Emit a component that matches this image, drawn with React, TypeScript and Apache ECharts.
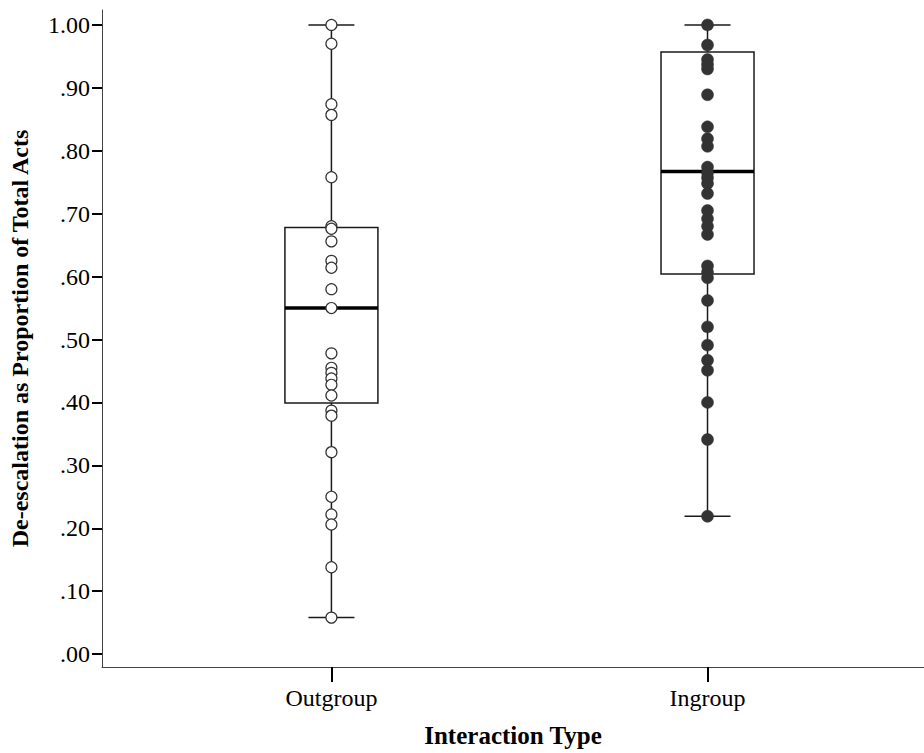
import React, { useEffect, useRef } from "react";
import * as echarts from "echarts";

const categories = ["Outgroup", "Ingroup"];

const outgroupValues = [
  1.0, 0.97, 0.874, 0.857, 0.758, 0.68, 0.676, 0.656, 0.625, 0.614, 0.58, 0.55,
  0.478, 0.455, 0.447, 0.438, 0.428, 0.411, 0.387, 0.379, 0.321, 0.25, 0.222,
  0.206, 0.138, 0.058,
];

const ingroupValues = [
  1.0, 0.968, 0.945, 0.937, 0.93, 0.889, 0.838, 0.819, 0.807, 0.774, 0.765,
  0.757, 0.748, 0.732, 0.705, 0.692, 0.68, 0.667, 0.617, 0.607, 0.598, 0.562,
  0.52, 0.491, 0.467, 0.451, 0.4, 0.341, 0.219,
];

// [min, Q1, median, Q3, max]
const outgroupBox = [0.058, 0.399, 0.55, 0.678, 1.0];
const ingroupBox = [0.219, 0.604, 0.767, 0.957, 1.0];

const yTicks = [0, 0.1, 0.2, 0.3, 0.4, 0.5, 0.6, 0.7, 0.8, 0.9, 1.0];

export default function App() {
  const ref = useRef<HTMLDivElement>(null);

  useEffect(() => {
    if (!ref.current) return;
    const chart = echarts.init(ref.current, null, { renderer: "svg" });
    const font = "'Liberation Serif', 'Times New Roman', serif";
    const boxes = [outgroupBox, ingroupBox];

    chart.setOption({
      animation: false,
      backgroundColor: "#ffffff",
      grid: { left: 100, right: 0, top: 10, bottom: 81 },
      xAxis: {
        type: "value",
        min: 0.39,
        max: 2.5756,
        name: "Interaction Type",
        nameLocation: "middle",
        nameGap: 56,
        nameTextStyle: {
          fontFamily: font,
          fontSize: 25,
          fontWeight: "bold",
          color: "#000",
        },
        splitLine: { show: false },
        axisLine: { onZero: false, lineStyle: { color: "#444", width: 1 } },
        axisTick: {
          show: true,
          customValues: [1, 2],
          length: 15,
          lineStyle: { color: "#000", width: 2 },
        },
        axisLabel: {
          customValues: [1, 2],
          formatter: (v: number) => categories[Math.round(v) - 1] ?? "",
          fontFamily: font,
          fontSize: 24,
          color: "#000",
          margin: 19,
        },
      },
      yAxis: {
        type: "value",
        min: -0.0205,
        max: 1.0237,
        name: "De-escalation as Proportion of Total Acts",
        nameLocation: "middle",
        nameGap: 70,
        nameTextStyle: {
          fontFamily: font,
          fontSize: 24,
          fontWeight: "bold",
          color: "#000",
        },
        splitLine: { show: false },
        axisLine: { show: true, onZero: false, lineStyle: { color: "#444", width: 1 } },
        axisTick: {
          show: true,
          customValues: yTicks,
          length: 10,
          lineStyle: { color: "#000", width: 2 },
        },
        axisLabel: {
          customValues: yTicks,
          formatter: (v: number) => v.toFixed(2).replace(/^0/, ""),
          fontFamily: font,
          fontSize: 24,
          color: "#000",
          margin: 12,
        },
      },
      series: [
        {
          type: "custom",
          z: 1,
          data: boxes.map((b, i) => [i + 1, ...b]),
          encode: { x: 0, y: [1, 2, 3, 4, 5] },
          renderItem: (params: any, api: any) => {
            const x = api.value(0);
            const pMin = api.coord([x, api.value(1)]);
            const pQ1 = api.coord([x, api.value(2)]);
            const pMed = api.coord([x, api.value(3)]);
            const pQ3 = api.coord([x, api.value(4)]);
            const pMax = api.coord([x, api.value(5)]);
            const cx = pMed[0];
            const halfBox = 46.5;
            const halfCap = 23;
            const lineStyle = { stroke: "#1a1a1a", lineWidth: 1.5 };
            return {
              type: "group",
              children: [
                {
                  type: "line",
                  shape: { x1: cx, y1: pMax[1], x2: cx, y2: pQ3[1] },
                  style: lineStyle,
                },
                {
                  type: "line",
                  shape: { x1: cx, y1: pQ1[1], x2: cx, y2: pMin[1] },
                  style: lineStyle,
                },
                {
                  type: "line",
                  shape: { x1: cx - halfCap, y1: pMax[1], x2: cx + halfCap, y2: pMax[1] },
                  style: lineStyle,
                },
                {
                  type: "line",
                  shape: { x1: cx - halfCap, y1: pMin[1], x2: cx + halfCap, y2: pMin[1] },
                  style: lineStyle,
                },
                {
                  type: "rect",
                  shape: {
                    x: cx - halfBox,
                    y: pQ3[1],
                    width: halfBox * 2,
                    height: pQ1[1] - pQ3[1],
                  },
                  style: { fill: "#ffffff", stroke: "#1a1a1a", lineWidth: 1.5 },
                },
                {
                  type: "line",
                  shape: { x1: cx - halfBox, y1: pMed[1], x2: cx + halfBox, y2: pMed[1] },
                  style: { stroke: "#000", lineWidth: 3.5 },
                },
              ],
            };
          },
        },
        {
          type: "scatter",
          z: 3,
          symbol: "circle",
          symbolSize: 11,
          data: outgroupValues.map((v) => [1, v]),
          itemStyle: { color: "#ffffff", borderColor: "#333", borderWidth: 1.2, opacity: 1 },
        },
        {
          type: "scatter",
          z: 3,
          symbol: "circle",
          symbolSize: 12,
          data: ingroupValues.map((v) => [2, v]),
          itemStyle: { color: "#333333", borderColor: "#333333", borderWidth: 0.5, opacity: 1 },
        },
      ],
    });

    return () => chart.dispose();
  }, []);

  return (
    <div
      ref={ref}
      style={{ position: "fixed", left: 0, top: 0, width: 924, height: 753 }}
    />
  );
}
